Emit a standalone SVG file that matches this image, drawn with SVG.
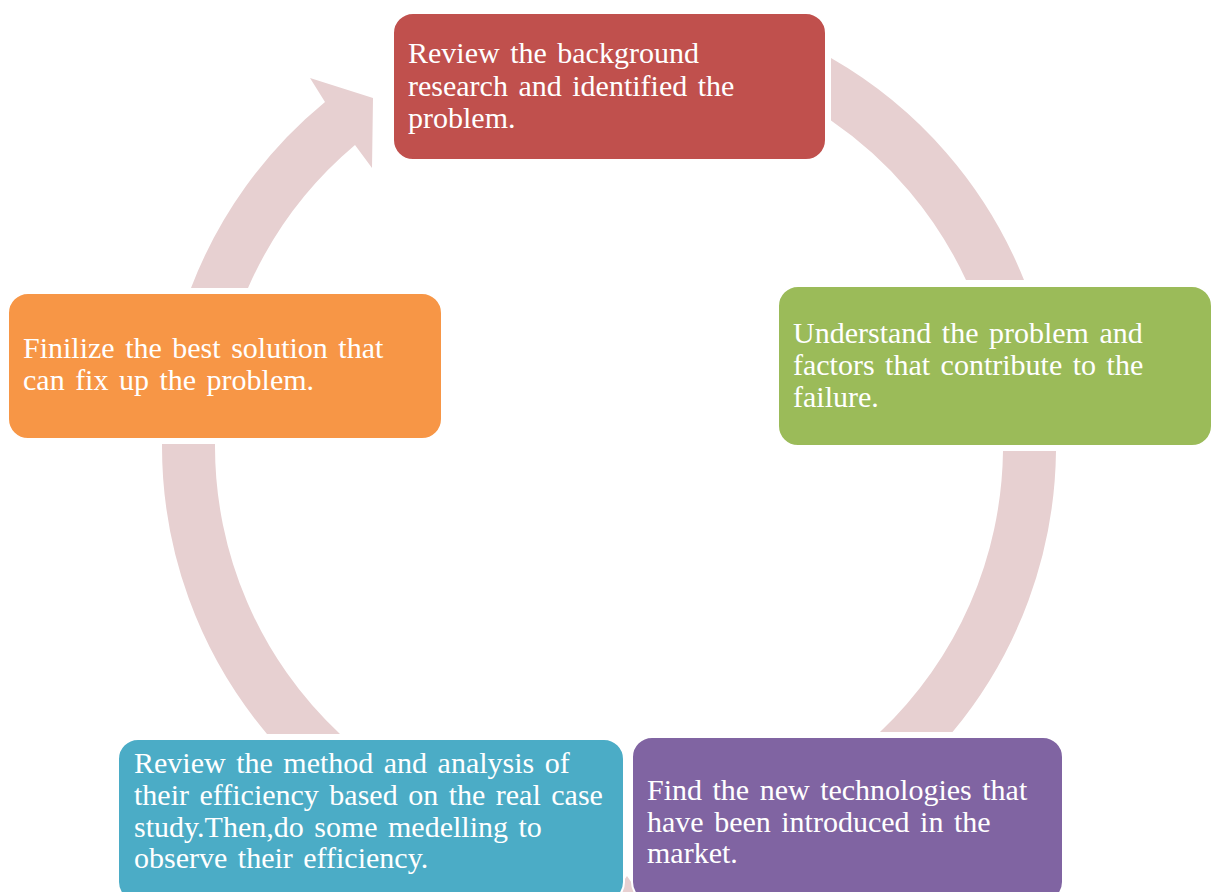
<svg xmlns="http://www.w3.org/2000/svg" width="1218" height="892" viewBox="0 0 1218 892">
<style>
.band{fill:#E7D0D1;stroke:none}
.box{stroke:#FFFFFF;stroke-width:2}
.t{font-family:"Liberation Serif","Times New Roman",serif;font-size:30px;fill:#FFFFFF;word-spacing:3px}
</style>
<rect x="0" y="0" width="1218" height="892" fill="#FFFFFF"/>
<g id="connectors">
<path class="band" d="M191,288 A447,447 0 0 1 325,102 L310,78 L373,98 L372,168 L355,145 A394,394 0 0 0 248,288 Z"/>
<path class="band" d="M831,58 A447,447 0 0 1 1024,280 L966,280 A394,394 0 0 0 831,120.5 Z"/>
<path class="band" d="M1056,451 A447,447 0 0 1 952.5,732 L880,732 A394,394 0 0 0 1003,451 Z"/>
<path class="band" d="M267,734 A447,447 0 0 1 162,444 L215,444 A394,394 0 0 0 340,734 Z"/>
<path class="band" d="M614,895 L627,876 L640,895 Z"/>
</g>
<g id="node1">
<rect class="box" x="393" y="13" width="433" height="147" rx="20" fill="#C0504D"/>
<text class="t"><tspan x="408" y="63">Review the background</tspan><tspan x="408" y="95.5">research and identified the</tspan><tspan x="408" y="128">problem.</tspan></text>
</g>
<g id="node2">
<rect class="box" x="778" y="286" width="434" height="160" rx="20" fill="#9BBB59"/>
<text class="t"><tspan x="793" y="343">Understand the problem and</tspan><tspan x="793" y="375">factors that contribute to the</tspan><tspan x="793" y="407">failure.</tspan></text>
</g>
<g id="node3">
<rect class="box" x="632" y="737" width="431" height="165" rx="20" fill="#8064A2"/>
<text class="t"><tspan x="647" y="800">Find the new technologies that</tspan><tspan x="647" y="831.5">have been introduced in the</tspan><tspan x="647" y="863">market.</tspan></text>
</g>
<g id="node4">
<rect class="box" x="118" y="739" width="506" height="163" rx="20" fill="#4BACC6"/>
<text class="t"><tspan x="134" y="773">Review the method and analysis of</tspan><tspan x="134" y="805">their efficiency based on the real case</tspan><tspan x="134" y="836.5">study.Then,do some medelling to</tspan><tspan x="134" y="868">observe their efficiency.</tspan></text>
</g>
<g id="node5">
<rect class="box" x="8" y="293" width="434" height="146" rx="20" fill="#F79646"/>
<text class="t"><tspan x="23" y="358">Finilize the best solution that</tspan><tspan x="23" y="390">can fix up the problem.</tspan></text>
</g>
</svg>
